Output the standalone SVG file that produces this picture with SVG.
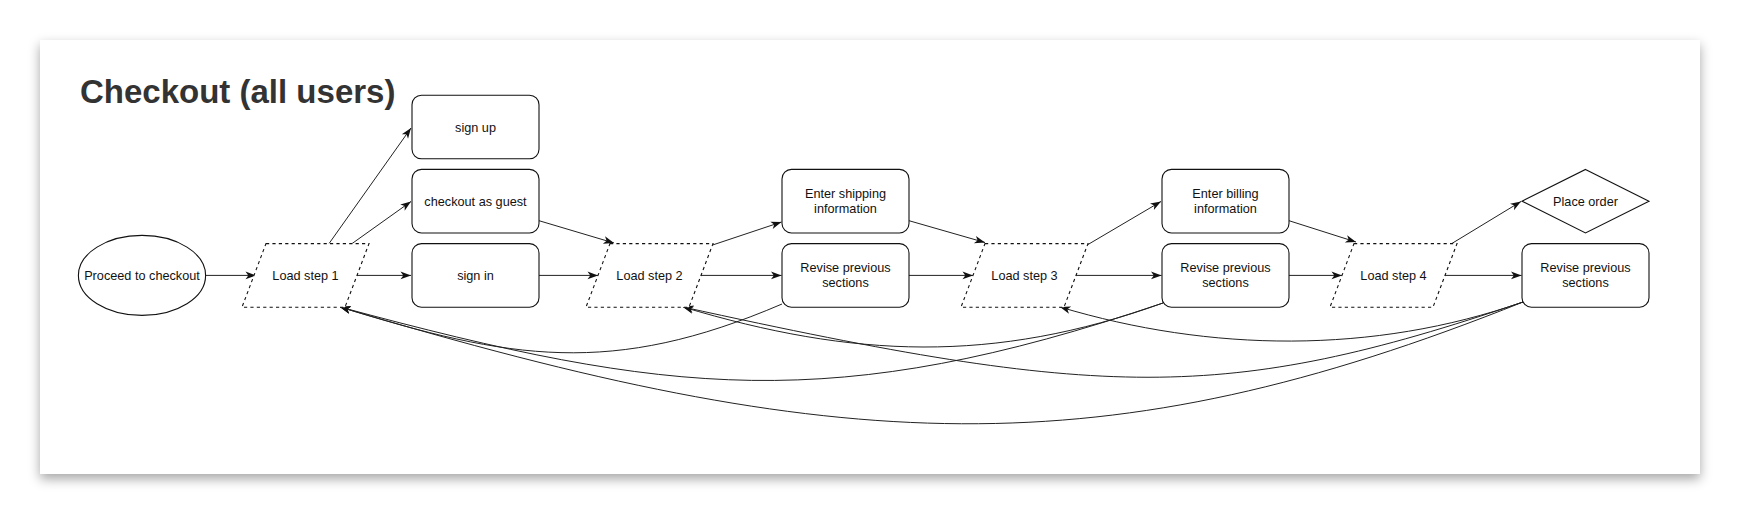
<svg xmlns="http://www.w3.org/2000/svg" width="1740" height="516" viewBox="0 0 1740 516">
<defs>
<filter id="shadow" x="-5%" y="-10%" width="110%" height="125%">
<feDropShadow dx="0" dy="5" stdDeviation="6" flood-color="#000" flood-opacity="0.35"/>
</filter>
<marker id="arr" markerUnits="userSpaceOnUse" markerWidth="12" markerHeight="9" refX="10.5" refY="4" orient="auto" overflow="visible">
<path d="M0,0.2 L10.5,4 L0,7.8 L2.8,4 Z" fill="#111"/>
</marker>
<style>
.box{fill:#fff;stroke:#111;stroke-width:1.1}
.para{fill:#fff;stroke:#111;stroke-width:1.1;stroke-dasharray:3.2 3.2}
.lbl{font-family:"Liberation Sans",Arial,Helvetica,sans-serif;font-size:12.7px;fill:#111;text-anchor:middle}
.title{font-family:"Liberation Sans",Arial,Helvetica,sans-serif;font-size:33px;font-weight:bold;fill:#333}
.edge{fill:none;stroke:#222;stroke-width:1;marker-end:url(#arr)}
</style>
</defs>
<rect width="1740" height="516" fill="#fff"/>
<rect x="40" y="40" width="1660" height="434" fill="#fff" filter="url(#shadow)"/>
<text class="title" x="80" y="103">Checkout (all users)</text>

<g id="connectors">
<path class="edge" d="M206,275.4 L256,275.4"/>
<path class="edge" d="M357,275.4 L411,275.4"/>
<path class="edge" d="M329,243.6 L411,128"/>
<path class="edge" d="M352,243.6 L411,201.5"/>
<path class="edge" d="M539,220.7 L614,243"/>
<path class="edge" d="M539,275.4 L598,275.4"/>
<path class="edge" d="M712.6,245 L781.5,222"/>
<path class="edge" d="M701,275.4 L781.5,275.4"/>
<path class="edge" d="M909,220.7 L985,242.5"/>
<path class="edge" d="M909,275.4 L973,275.4"/>
<path class="edge" d="M1088,244.5 L1161,201.5"/>
<path class="edge" d="M1076,275.4 L1161.5,275.4"/>
<path class="edge" d="M1289,220.7 L1356,242"/>
<path class="edge" d="M1289,275.4 L1342,275.4"/>
<path class="edge" d="M1451,244 L1521,201.5"/>
<path class="edge" d="M1445,275.4 L1521.5,275.4"/>
<path class="edge" d="M782,304 C612,377 510,359.7 340,307"/>
<path class="edge" d="M1163,303 C833,415 670,396 340,307"/>
<path class="edge" d="M1523,302 C1103,470 840,457 340,307"/>
<path class="edge" d="M1163,303 C993,364 853,358 683,307"/>
<path class="edge" d="M1523,302 C1223,404 1103,399 683,307"/>
<path class="edge" d="M1523,302 C1373,354.5 1210,352 1060,307"/>
</g>

<g id="proceed">
<ellipse class="box" cx="142" cy="275.4" rx="63.6" ry="40"/>
<text class="lbl" x="142" y="280">Proceed to checkout</text>
</g>
<g id="load1">
<path class="para" d="M266,243.6 L369,243.6 L345,307.2 L242,307.2 Z"/>
<text class="lbl" x="305.5" y="280">Load step 1</text>
</g>
<g id="signup">
<rect class="box" x="412" y="95.2" width="127" height="63.6" rx="9.5"/>
<text class="lbl" x="475.5" y="131.5">sign up</text>
</g>
<g id="guest">
<rect class="box" x="412" y="169.4" width="127" height="63.6" rx="9.5"/>
<text class="lbl" x="475.5" y="205.7">checkout as guest</text>
</g>
<g id="signin">
<rect class="box" x="412" y="243.6" width="127" height="63.6" rx="9.5"/>
<text class="lbl" x="475.5" y="280">sign in</text>
</g>
<g id="load2">
<path class="para" d="M610,243.6 L713,243.6 L689,307.2 L586,307.2 Z"/>
<text class="lbl" x="649.5" y="280">Load step 2</text>
</g>
<g id="shipping">
<rect class="box" x="782" y="169.4" width="127" height="63.6" rx="9.5"/>
<text class="lbl" x="845.5" y="198">Enter shipping</text>
<text class="lbl" x="845.5" y="213">information</text>
</g>
<g id="revise1">
<rect class="box" x="782" y="243.6" width="127" height="63.6" rx="9.5"/>
<text class="lbl" x="845.5" y="272.2">Revise previous</text>
<text class="lbl" x="845.5" y="287.2">sections</text>
</g>
<g id="load3">
<path class="para" d="M985,243.6 L1088,243.6 L1064,307.2 L961,307.2 Z"/>
<text class="lbl" x="1024.5" y="280">Load step 3</text>
</g>
<g id="billing">
<rect class="box" x="1162" y="169.4" width="127" height="63.6" rx="9.5"/>
<text class="lbl" x="1225.5" y="198">Enter billing</text>
<text class="lbl" x="1225.5" y="213">information</text>
</g>
<g id="revise2">
<rect class="box" x="1162" y="243.6" width="127" height="63.6" rx="9.5"/>
<text class="lbl" x="1225.5" y="272.2">Revise previous</text>
<text class="lbl" x="1225.5" y="287.2">sections</text>
</g>
<g id="load4">
<path class="para" d="M1354,243.6 L1457,243.6 L1433,307.2 L1330,307.2 Z"/>
<text class="lbl" x="1393.5" y="280">Load step 4</text>
</g>
<g id="placeorder">
<path class="box" d="M1585.5,169.4 L1649,201.2 L1585.5,233 L1522,201.2 Z"/>
<text class="lbl" x="1585.5" y="205.7">Place order</text>
</g>
<g id="revise3">
<rect class="box" x="1522" y="243.6" width="127" height="63.6" rx="9.5"/>
<text class="lbl" x="1585.5" y="272.2">Revise previous</text>
<text class="lbl" x="1585.5" y="287.2">sections</text>
</g>
</svg>
